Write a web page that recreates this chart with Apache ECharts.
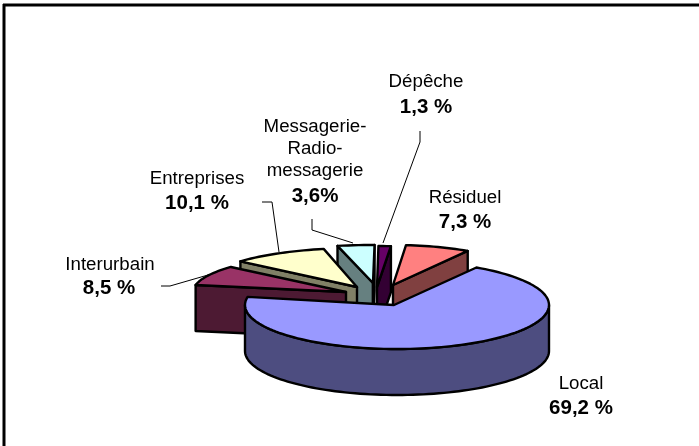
<!DOCTYPE html>
<html>
<head>
<meta charset="utf-8">
<style>html,body{margin:0;padding:0;background:#fff}#c{width:699px;height:446px}</style>
<script src="https://cdn.jsdelivr.net/npm/echarts@6/dist/echarts.min.js"></script>
</head>
<body>
<div id="c"></div>
<script>
// Data, clockwise from the first slice
var categories = ['Local', 'Interurbain', 'Entreprises', 'Messagerie-\nRadio-\nmessagerie', 'Dépêche', 'Résiduel'];
var values = [69.2, 8.5, 10.1, 3.6, 1.3, 7.3];
var valueLabels = ['69,2 %', '8,5 %', '10,1 %', '3,6%', '1,3 %', '7,3 %'];

// Styling and layout
var startDeg = 31.5;
var topColors = ['#9999FF', '#993366', '#FFFFCC', '#CCFFFF', '#660066', '#FF8080'];
var wallColors = ['#4D4D80', '#4D1A33', '#808066', '#668080', '#330033', '#804040'];
var apexes = [[394, 305], [346, 292], [357, 287], [373, 283], [377, 287], [393, 285]];
var rimShiftX = [3, 0, 0, 0, 0, 0];
var radiiX = [152, 153, 155, 165, 153, 143];
var radiiY = [44, 38, 39, 38, 41, 40];
var depth = 46;
var drawOrder = [50, 30, 20, 10, 5, 40];
var labelX = [581, 110, 197, 315, 426, 465];
var labelY = [384, 265, 179, 127, 82, 198];
var lineGap = 22, valueGap = [24, 23, 24, 25, 25, 24];
var leaders = [
  null,
  [[161, 286], [170, 286], [208, 275]],
  [[262, 202], [272, 202], [279, 252]],
  [[312, 219], [312, 230], [353, 243]],
  [[420, 131], [420, 142], [383, 243]],
  null
];
var FONT = '"Liberation Sans", Arial, sans-serif';
var total = values.reduce(function (a, b) { return a + b; }, 0);

function rimPoint(i, deg, dy) {
  var r = deg * Math.PI / 180;
  return [apexes[i][0] + rimShiftX[i] + radiiX[i] * Math.sin(r), apexes[i][1] - radiiY[i] * Math.cos(r) + (dy || 0)];
}
function arcPoints(i, a0, a1, dy) {
  var pts = [], n = Math.max(2, Math.ceil(Math.abs(a1 - a0) / 2));
  for (var k = 0; k <= n; k++) pts.push(rimPoint(i, a0 + (a1 - a0) * k / n, dy));
  return pts;
}
function poly(points, fill, z2) {
  return { type: 'polygon', z2: z2, shape: { points: points },
    style: { fill: fill, stroke: '#000', lineWidth: 2.4, lineJoin: 'round' } };
}
function renderSlice(params, api) {
  var i = params.dataIndex, before = 0;
  for (var k = 0; k < i; k++) before += values[k];
  var a0 = startDeg + before / total * 360;
  var a1 = a0 + api.value(0) / total * 360;
  var z = drawOrder[i], wall = wallColors[i], apex = apexes[i], kids = [];
  var apexLow = [apex[0], apex[1] + depth];

  function radial(deg) {
    var p = rimPoint(i, deg);
    kids.push(poly([apex, p, [p[0], p[1] + depth], apexLow], wall, z));
  }
  if (Math.sin(a0 * Math.PI / 180) < 0) radial(a0);
  if (Math.sin(a1 * Math.PI / 180) > 0) radial(a1);

  // outer wall: the part of the rim facing the viewer
  var f0 = Math.max(a0, 90), f1 = Math.min(a1, 270);
  if (f1 > f0) {
    kids.push(poly(arcPoints(i, f0, f1).concat(arcPoints(i, f1, f0, depth)), wall, z));
  }
  kids.push(poly([apex].concat(arcPoints(i, a0, a1)), topColors[i], z + 1));

  // label
  var lines = categories[i].split('\n'), x = labelX[i], y = labelY[i];
  lines.forEach(function (t, n) {
    kids.push({ type: 'text', z2: 100, x: x, y: y + n * lineGap,
      style: { text: t, fontFamily: FONT, fontSize: 18.7, fill: '#000', align: 'center', verticalAlign: 'middle' } });
  });
  kids.push({ type: 'text', z2: 100, x: x - (i === 1 ? 1 : 0), y: y + (lines.length - 1) * lineGap + valueGap[i],
    style: { text: valueLabels[i], fontFamily: FONT, fontSize: 20.5, fontWeight: 'bold', fill: '#000', align: 'center', verticalAlign: 'middle' } });
  if (leaders[i]) {
    kids.push({ type: 'polyline', z2: 1, shape: { points: leaders[i] },
      style: { fill: null, stroke: '#000', lineWidth: 1 } });
  }
  return { type: 'group', children: kids };
}

var chart = echarts.init(document.getElementById('c'), null, { renderer: 'canvas' });
chart.setOption({
  animation: false,
  backgroundColor: '#fff',
  graphic: [
    { type: 'line', shape: { x1: 3, y1: 5, x2: 699, y2: 5 }, style: { stroke: '#000', lineWidth: 3 } },
    { type: 'line', shape: { x1: 4, y1: 4, x2: 4, y2: 446 }, style: { stroke: '#000', lineWidth: 3 } }
  ],
  series: [{
    type: 'custom',
    coordinateSystem: 'none',
    clip: false,
    silent: true,
    renderItem: renderSlice,
    data: values.map(function (v) { return [v]; })
  }]
});
</script>
</body>
</html>
